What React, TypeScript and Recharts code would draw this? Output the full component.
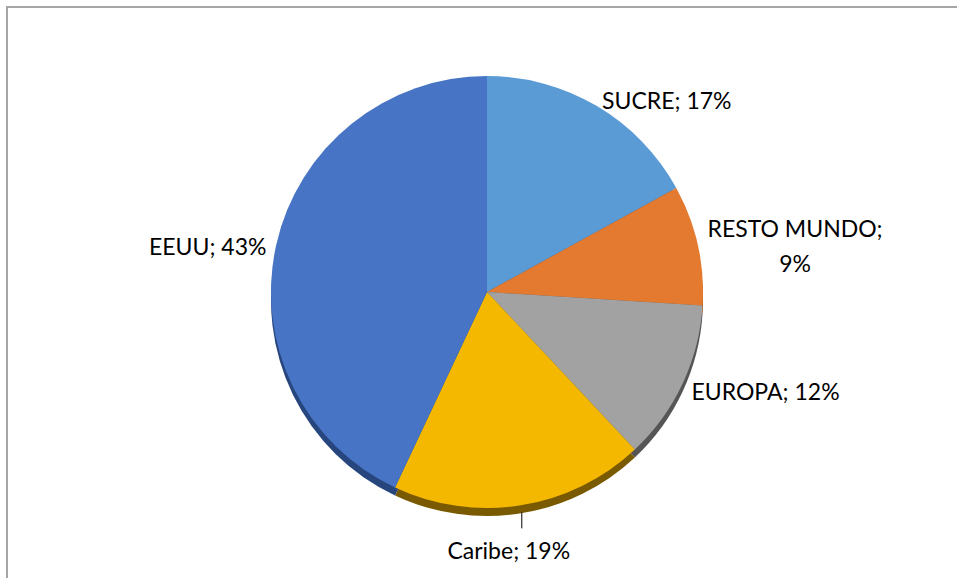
import { PieChart, Pie, Cell } from "recharts"

const regions = ["SUCRE", "RESTO MUNDO", "EUROPA", "Caribe", "EEUU"]
const shares = [17, 9, 12, 19, 43]
const COLORS = ["#5B9BD5", "#E47A30", "#A2A2A2", "#F4B800", "#4774C4"]
const EDGE_COLORS = ["#2F5E8A", "#8A4516", "#555555", "#7A5A00", "#27467E"]

const data = regions.map((name, i) => ({ name, value: shares[i] }))

const FONT = "Lato"
const FONT_SIZE = 23
const LINE_GAP = 35

let ctx: CanvasRenderingContext2D | null = null
const textWidth = (s: string): number => {
  if (!ctx) ctx = document.createElement("canvas").getContext("2d")
  if (!ctx) return s.length * 12
  ctx.font = `${FONT_SIZE}px ${FONT}`
  return ctx.measureText(s).width
}

const RADIAN = Math.PI / 180

const renderLabel = (props: any) => {
  const { cx, cy, midAngle, outerRadius, name, value } = props
  const full = `${name}; ${value}%`
  const lines = full.length > 12 ? [`${name};`, `${value}%`] : [full]
  const hw = Math.max(...lines.map(textWidth)) / 2
  const hh = lines.length > 1 ? 33 : 16
  const cos = Math.cos(midAngle * RADIAN)
  const sin = Math.sin(midAngle * RADIAN)
  const ex = cx + outerRadius * cos
  const ey = cy - outerRadius * sin
  let x: number
  let y: number
  const bottom = sin < -0.95
  if (bottom) {
    // label below the pie with a short leader line
    x = ex - 12
    y = ey + 7 + 22 + hh
  } else {
    const px = cx + (outerRadius + 10) * cos
    const py = cy - (outerRadius + 10) * sin
    x = cos >= 0 ? px + hw : px - hw
    y = py + 3
  }
  return (
    <g>
      {bottom && <line x1={ex + 1} y1={ey + 7} x2={ex + 1} y2={ey + 7 + 16} stroke="#000" strokeWidth={1} />}
      <text x={x} y={y} textAnchor="middle" fill="#000" fontFamily={FONT} fontSize={FONT_SIZE}>
        {lines.map((l, i) => (
          <tspan key={i} x={x} y={y + (i - (lines.length - 1) / 2) * LINE_GAP} dominantBaseline="central">
            {l}
          </tspan>
        ))}
      </text>
    </g>
  )
}

export default function App() {
  return (
    <div style={{ position: "absolute", left: 0, top: 0, width: 957, height: 578, overflow: "hidden", background: "#fff" }}>
      <div
        style={{
          position: "absolute",
          left: 6,
          top: 6,
          width: 980,
          height: 600,
          borderLeft: "2px solid #A6A6A6",
          borderTop: "2px solid #A6A6A6",
          boxSizing: "border-box",
        }}
      />
      <div style={{ position: "absolute", left: 0, top: 0 }}>
        <PieChart width={957} height={578} margin={{ top: 0, right: 0, bottom: 0, left: 0 }}>
          <Pie
            data={data}
            dataKey="value"
            cx={487}
            cy={300}
            outerRadius={216}
            startAngle={90}
            endAngle={-270}
            stroke="none"
            isAnimationActive={false}
          >
            {data.map((entry, index) => (
              <Cell key={entry.name} fill={EDGE_COLORS[index]} />
            ))}
          </Pie>
          <Pie
            data={data}
            dataKey="value"
            cx={487}
            cy={292}
            outerRadius={216}
            startAngle={90}
            endAngle={-270}
            stroke="none"
            label={renderLabel}
            labelLine={false}
            isAnimationActive={false}
          >
            {data.map((entry, index) => (
              <Cell key={entry.name} fill={COLORS[index]} />
            ))}
          </Pie>
        </PieChart>
      </div>
    </div>
  )
}
